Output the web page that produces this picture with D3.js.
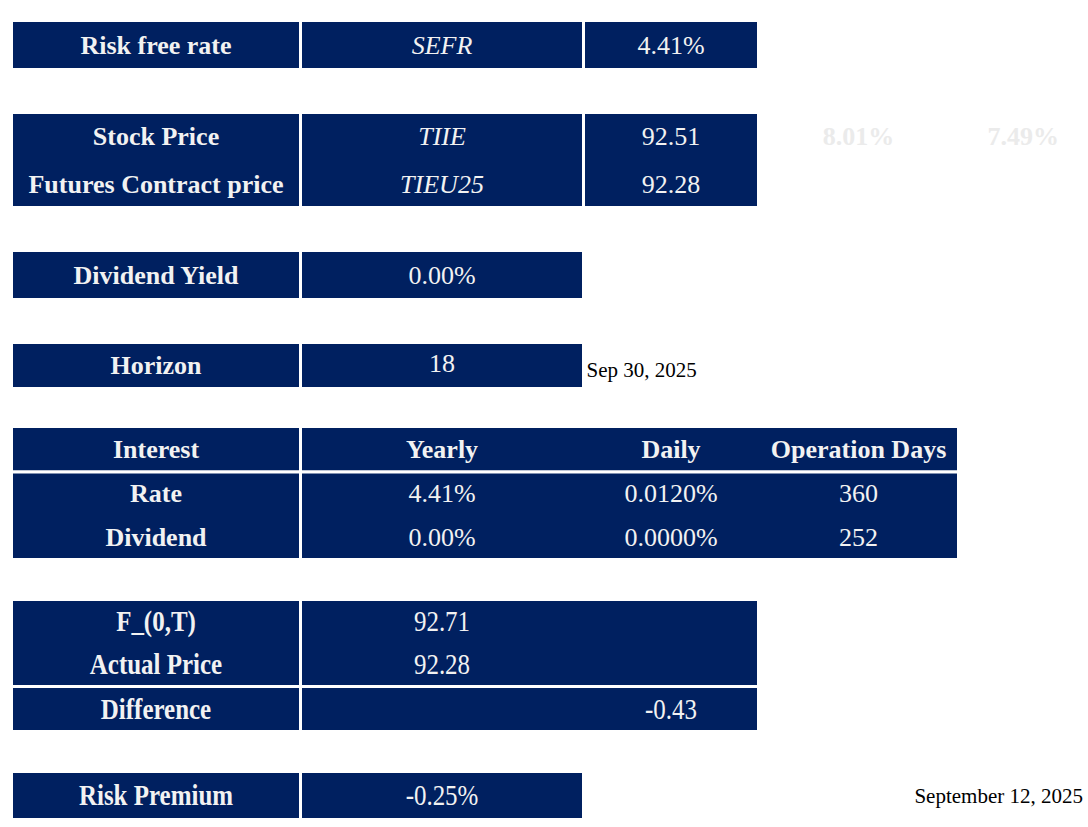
<!DOCTYPE html>
<html>
<head>
<meta charset="utf-8">
<script src="https://cdn.jsdelivr.net/npm/d3@7"></script>
<style>
  html, body { margin: 0; padding: 0; background: #ffffff; }
  svg { display: block; }
</style>
</head>
<body>
<svg id="sheet"></svg>
<script>
// values
const riskFreeRow = ["Risk free rate", "SEFR", "4.41%"];
const priceLabels = ["Stock Price", "Futures Contract price"];
const priceTickers = ["TIIE", "TIEU25"];
const priceValues = [92.51, 92.28];
const sideYields = ["8.01%", "7.49%"];
const dividendYield = 0.0;
const horizonDays = 18;
const horizonDate = "Sep 30, 2025";
const interestHeader = ["Interest", "Yearly", "Daily", "Operation Days"];
const interestRows = ["Rate", "Dividend"];
const yearlyRates = [4.41, 0.0];
const dailyRates = [0.0120, 0.0];
const operationDays = [360, 252];
const forwardLabels = ["F_(0,T)", "Actual Price"];
const forwardValues = [92.71, 92.28];
const difference = -0.43;
const riskPremium = -0.25;
const reportDate = "September 12, 2025";

const width = 1088;
const height = 827;
const navy = "#002060";
const ink = "#f2f2f2";
const font = "'Liberation Serif', 'DejaVu Serif', serif";

const svg = d3.select("#sheet").attr("width", width).attr("height", height);

// sheet grid: column edges and row edges (cell borders are 3px white)
const x = d3.scaleLinear().domain([0, 1, 2, 3, 4, 5]).range([11.5, 300.5, 583.5, 758.5, 958.5, 1088]);
const rowEdges = [20.5, 69.5, 112.5, 160.5, 207.5, 250.5, 299.5, 342.5, 388.5, 426.5, 472, 515.5, 559.5,
  599.5, 643, 686.5, 731.5, 771.5, 819.5];
const y = d3.scaleLinear().domain(d3.range(rowEdges.length)).range(rowEdges);
const colMid = c => (x(c) + x(c + 1)) / 2;
const rowMid = r => (y(r) + y(r + 1)) / 2;

// excel-style hyphen minus
const loc = d3.formatLocale({ decimal: ".", thousands: ",", grouping: [3], currency: ["$", ""], minus: "-" });
const f2 = loc.format(".2f");
const f4 = loc.format(".4f");

// blocks: [col0, col1, row0, row1]
const blocks = [
  [0, 1, 0, 1], [1, 2, 0, 1], [2, 3, 0, 1],
  [0, 1, 2, 4], [1, 2, 2, 4], [2, 3, 2, 4],
  [0, 1, 5, 6], [1, 2, 5, 6],
  [0, 1, 7, 8], [1, 2, 7, 8],
  [0, 1, 9, 10], [1, 4, 9, 10],
  [0, 1, 10, 12], [1, 4, 10, 12],
  [0, 1, 13, 15], [1, 3, 13, 15],
  [0, 1, 15, 16], [1, 3, 15, 16],
  [0, 1, 17, 18], [1, 2, 17, 18]
];

svg.append("g").selectAll("rect")
  .data(blocks)
  .join("rect")
  .attr("x", d => x(d[0]))
  .attr("y", d => y(d[2]))
  .attr("width", d => x(d[1]) - x(d[0]))
  .attr("height", d => y(d[3]) - y(d[2]))
  .attr("fill", navy)
  .attr("stroke", "#ffffff")
  .attr("stroke-width", 3);

// text cells: col, row, text, style
const cells = [];
riskFreeRow.forEach((t, i) => cells.push({ c: i, r: 0, t, b: i === 0, it: i === 1 }));
priceLabels.forEach((t, i) => {
  cells.push({ c: 0, r: 2 + i, t, b: true });
  cells.push({ c: 1, r: 2 + i, t: priceTickers[i], it: true });
  cells.push({ c: 2, r: 2 + i, t: f2(priceValues[i]) });
});
cells.push({ c: 0, r: 5, t: "Dividend Yield", b: true });
cells.push({ c: 1, r: 5, t: f2(dividendYield) + "%" });
cells.push({ c: 0, r: 7, t: "Horizon", b: true });
cells.push({ c: 1, r: 7, t: String(horizonDays), dy: -2 });
interestHeader.forEach((t, i) => cells.push({ c: i, r: 9, t, b: true }));
interestRows.forEach((t, i) => {
  cells.push({ c: 0, r: 10 + i, t, b: true });
  cells.push({ c: 1, r: 10 + i, t: f2(yearlyRates[i]) + "%" });
  cells.push({ c: 2, r: 10 + i, t: f4(dailyRates[i]) + "%" });
  cells.push({ c: 3, r: 10 + i, t: String(operationDays[i]) });
});
forwardLabels.forEach((t, i) => {
  cells.push({ c: 0, r: 13 + i, t, b: true, tall: true });
  cells.push({ c: 1, r: 13 + i, t: f2(forwardValues[i]), tall: true });
});
cells.push({ c: 0, r: 15, t: "Difference", b: true, tall: true });
cells.push({ c: 2, r: 15, t: f2(difference), tall: true });
cells.push({ c: 0, r: 17, t: "Risk Premium", b: true, tall: true });
cells.push({ c: 1, r: 17, t: f2(riskPremium) + "%", tall: true });

svg.append("g").selectAll("text")
  .data(cells)
  .join("text")
  .attr("transform", d => `translate(${colMid(d.c)},${rowMid(d.r) + (d.dy || 0)})` + (d.tall ? " scale(0.96,1.1)" : ""))
  .attr("text-anchor", "middle")
  .attr("dominant-baseline", "central")
  .attr("font-family", font)
  .attr("font-size", 26)
  .attr("font-weight", d => d.b ? "bold" : "normal")
  .attr("font-style", d => d.it ? "italic" : "normal")
  .attr("fill", ink)
  .text(d => d.t);

// faint yields to the right of the price block
svg.append("g").selectAll("text")
  .data(sideYields)
  .join("text")
  .attr("x", (d, i) => colMid(3 + i))
  .attr("y", rowMid(2))
  .attr("text-anchor", "middle")
  .attr("dominant-baseline", "central")
  .attr("font-family", font)
  .attr("font-size", 26)
  .attr("font-weight", "bold")
  .attr("fill", "#ebebeb")
  .text(d => d);

// loose notes
svg.append("text")
  .attr("x", x(2) + 3)
  .attr("y", rowMid(7) + 4)
  .attr("dominant-baseline", "central")
  .attr("font-family", font)
  .attr("font-size", 21)
  .attr("fill", "#000000")
  .text(horizonDate);

svg.append("text")
  .attr("x", 1083)
  .attr("y", rowMid(17))
  .attr("text-anchor", "end")
  .attr("dominant-baseline", "central")
  .attr("font-family", font)
  .attr("font-size", 21)
  .attr("fill", "#000000")
  .text(reportDate);
</script>
</body>
</html>
